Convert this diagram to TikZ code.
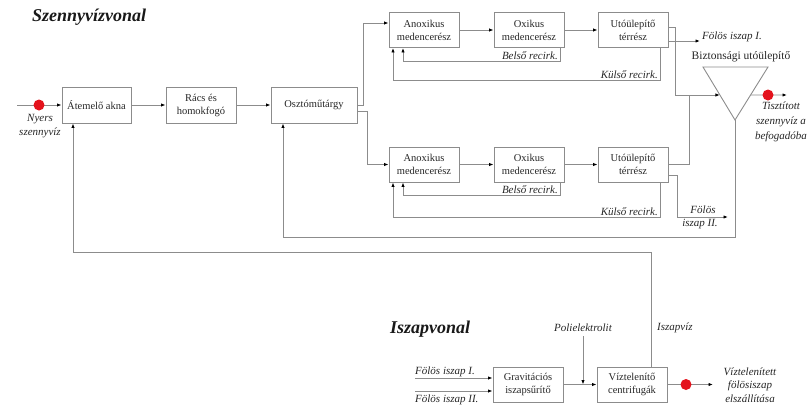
\documentclass[tikz,border=0pt]{standalone}
\usepackage{fontspec}
\setmainfont{Liberation Serif}
\usetikzlibrary{arrows.meta,calc}
\definecolor{lgray}{RGB}{140,140,140}
\definecolor{dotred}{RGB}{228,18,28}
\begin{document}
\begin{tikzpicture}[x=1pt,y=-1pt,
  box/.style={draw=lgray, line width=0.9pt, minimum width=70pt, minimum height=35pt, align=center,
    font=\fontsize{10.5}{13}\selectfont, inner sep=1pt, text=black!85},
  wire/.style={draw=lgray, line width=0.9pt},
  arr/.style={wire, -{Latex[length=4.5pt,width=3.4pt,color=black]}},
  lab/.style={font=\fontsize{11}{14}\selectfont\itshape, align=center, inner sep=0pt, text=black!85},
  plain/.style={font=\fontsize{11.5}{13}\selectfont, inner sep=0pt, text=black!85},
  ttl/.style={font=\fontsize{18}{20}\selectfont\bfseries\itshape, inner sep=0pt, text=black!90},
  rdot/.style={circle, fill=dotred, minimum size=11pt, inner sep=0pt}
]
\useasboundingbox (0,0) rectangle (807,408);

% titles
\node[ttl, anchor=west] (t1) at (32,17) {Szennyvízvonal};
\node[ttl, anchor=west] (t2) at (390,329) {Iszapvonal};

% main row
\node[box, minimum width=69pt, minimum height=36pt] (at) at (96.5,105) {Átemelő akna};
\node[box, minimum height=36pt] (racs) at (201,105) {Rács és\\homokfogó};
\node[box, minimum width=86pt, minimum height=36pt] (oszto) at (314,105) {Osztóműtárgy};

% upper line
\node[box] (anox1) at (424,30) {Anoxikus\\medencerész};
\node[box] (ox1) at (529,30) {Oxikus\\medencerész};
\node[box] (uto1) at (633,30) {Utóülepítő\\térrész};

% lower line
\node[box] (anox2) at (424,164.5) {Anoxikus\\medencerész};
\node[box] (ox2) at (529,164.5) {Oxikus\\medencerész};
\node[box] (uto2) at (633,164.5) {Utóülepítő\\térrész};

% sludge line
\node[box] (grav) at (528,384.5) {Gravitációs\\iszapsűrítő};
\node[box] (vizt) at (632,384.5) {Víztelenítő\\centrifugák};

% raw wastewater input
\coordinate (in0) at (17,105);
\draw[arr] (in0) -- (at.west);
\node[rdot] (d1) at (39,105) {};
\node[lab] (nyers) at (40,126) {Nyers\\szennyvíz};

\draw[arr] (at) -- (racs);
\draw[arr] (racs) -- (oszto);
\draw[arr] (oszto.east) -- ++(6,0) |- ([yshift=7pt]anox1.west);
\draw[arr] ([yshift=-6pt]oszto.east) -- ++(10,0) |- (anox2.west);

\draw[arr] (anox1) -- (ox1);
\draw[arr] (ox1) -- (uto1);
\draw[arr] (anox2) -- (ox2);
\draw[arr] (ox2) -- (uto2);

% recirculations upper
\draw[arr] ([xshift=31pt]ox1.south) -- ++(0,13) -| ([xshift=-21pt]anox1.south);
\node[lab, anchor=south east] (b1) at (558,60) {Belső recirk.};
\draw[arr] ([xshift=27pt]uto1.south) -- ++(0,32) -| ([xshift=-31pt]anox1.south);
\node[lab, anchor=south east] (k1) at (658,79) {Külső recirk.};

% recirculations lower
\draw[arr] ([xshift=31pt]ox2.south) -- ++(0,13) -| ([xshift=-21pt]anox2.south);
\node[lab, anchor=south east] (b2) at (558,194) {Belső recirk.};
\draw[arr] ([xshift=27pt]uto2.south) -- ++(0,35) -| ([xshift=-31pt]anox2.south);
\node[lab, anchor=south east] (k2) at (658,216) {Külső recirk.};

% safety settler
\coordinate (tl) at (703,67);
\coordinate (tr) at (768,67);
\coordinate (tb) at (735,120);
\draw[wire] (tl) -- (tr) -- (tb) -- cycle;
\node[plain] (bizt) at (741,57) {Biztonsági utóülepítő};

\coordinate (tin) at ($(tl)!0.528!(tb)$);
\coordinate (j) at (689,95);
\draw[arr] ([yshift=3pt]uto1.east) -- ++(7,0) |- (tin);
\draw[wire] (uto2.east) -| (j);

% excess sludge I
\coordinate (fi1) at (700,41);
\draw[arr] ([yshift=-11pt]uto1.east) -- (fi1);
\node[lab, anchor=west] (lfi1) at (702,37) {Fölös iszap I.};

% excess sludge II
\coordinate (fi2) at (728,217);
\draw[arr] ([yshift=-11pt]uto2.east) -- ++(9,0) |- (fi2);
\node[lab] (lfi2a) at (703,210) {Fölös};
\node[lab] (lfi2b) at (700,224) {iszap II.};

% treated effluent
\coordinate (tout) at (787,95);
\draw[arr] ($(tr)!0.528!(tb)$) -- (tout);
\node[rdot] (d2) at (768,95) {};
\node[lab, font=\fontsize{11}{15}\selectfont\itshape] (tiszt) at (781,122) {Tisztított\\szennyvíz a\\befogadóba};

% return from safety settler
\draw[arr] (tb) -- ++(0,117) -| ([xshift=-31pt]oszto.south);

% sludge water return
\draw[arr] ([xshift=19pt]vizt.north) -- ++(0,-114) -| ([xshift=-23.5pt]at.south);
\node[lab, anchor=west] (iszv) at (657,328) {Iszapvíz};

% polyelectrolyte
\node[lab] (poli) at (583,328) {Polielektrolit};
\coordinate (pj) at (583,384.5);
\draw[arr] ([yshift=-4pt]poli.south) -- (pj);

\draw[arr] (grav) -- (vizt);

% sludge inputs
\coordinate (f1s) at (415,378);
\coordinate (f2s) at (415,391);
\draw[arr] (f1s) -- (f1s -| grav.west);
\draw[arr] (f2s) -- (f2s -| grav.west);
\node[lab, anchor=base west] (lf1) at (415,374) {Fölös iszap I.};
\node[lab, anchor=base west] (lf2) at (415,402) {Fölös iszap II.};

% dewatered sludge output
\coordinate (vo) at (713,384.5);
\draw[arr] (vizt.east) -- (vo);
\node[rdot] (d3) at (686,384.5) {};
\node[lab, font=\fontsize{11}{13.5}\selectfont\itshape] (vout) at (750,385) {Víztelenített\\fölösiszap\\elszállítása};
\end{tikzpicture}
\end{document}
